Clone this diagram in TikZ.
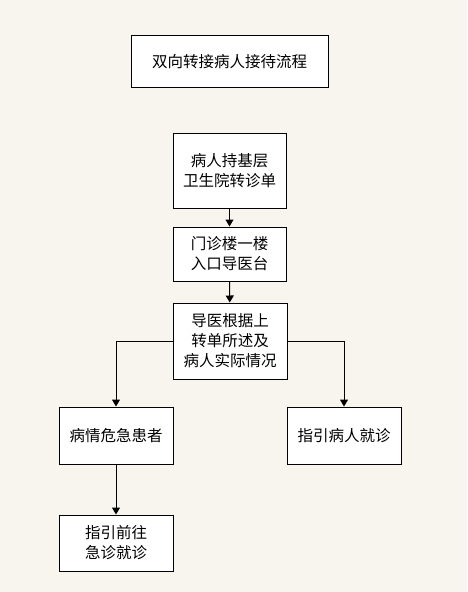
\documentclass[tikz,border=0pt]{standalone}
\usepackage{fontspec}
\setmainfont{Noto Sans CJK SC}
\usetikzlibrary{arrows.meta}
\definecolor{bgc}{HTML}{F8F5EE}
\begin{document}
\begin{tikzpicture}[x=1pt,y=-1pt,
  box/.style={draw=black,line width=1pt,fill=white,rectangle,align=center,
    font=\fontsize{15.5pt}{20pt}\selectfont,inner sep=0pt},
  conn/.style={draw=black,line width=1pt,-{Triangle[width=8pt,length=7pt]}}]
\fill[bgc] (0,0) rectangle (467,592);
\useasboundingbox (0,0) rectangle (467,592);
\node[box,minimum width=197pt,minimum height=52pt] (title) at (229.5,61.5) {双向转接病人接待流程};
\node[box,minimum width=113pt,minimum height=75pt] (b1) at (229.5,170.5) {病人持基层\\卫生院转诊单};
\node[box,minimum width=113pt,minimum height=54pt] (b2) at (229.5,254) {门诊楼一楼\\入口导医台};
\node[box,minimum width=114pt,minimum height=76pt] (b3) at (230,341) {导医根据上\\转单所述及\\病人实际情况};
\node[box,minimum width=114pt,minimum height=57pt] (b4) at (116,435.5) {病情危急患者};
\node[box,minimum width=114pt,minimum height=57pt] (b5) at (344,435.5) {指引病人就诊};
\node[box,minimum width=114pt,minimum height=56pt] (b6) at (116,543) {指引前往\\急诊就诊};
\draw[conn] (b1) -- (b2);
\draw[conn] (b2) -- (b3);
\draw[conn] (b3.west) -| (b4.north);
\draw[conn] (b3.east) -| (b5.north);
\draw[conn] (b4) -- (b6);
\end{tikzpicture}
\end{document}
